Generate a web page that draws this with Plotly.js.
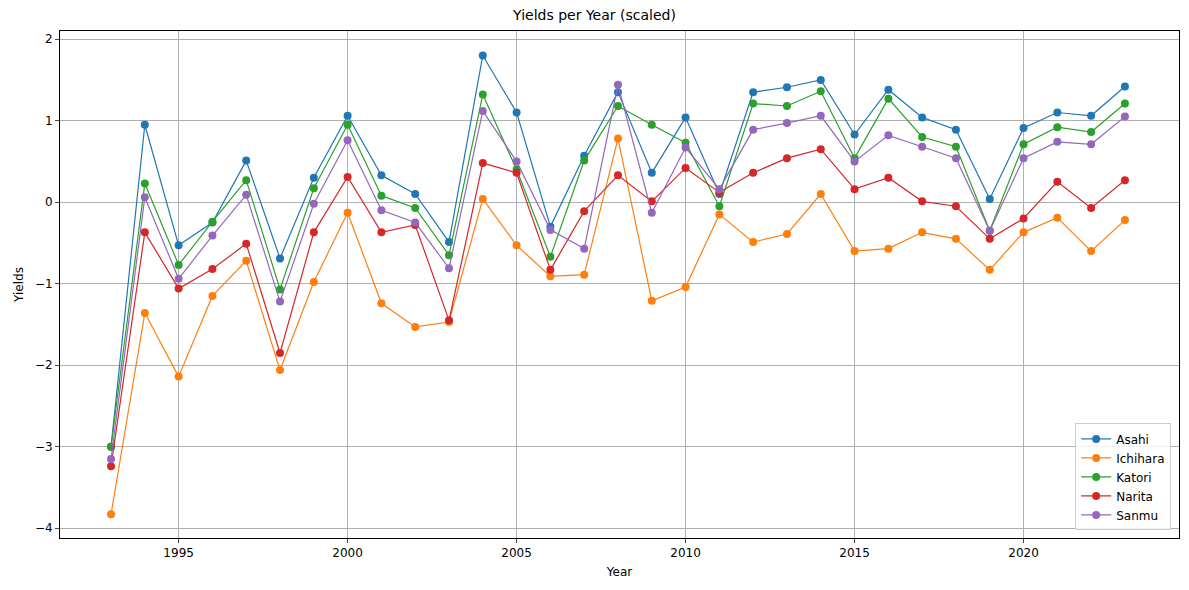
<!DOCTYPE html>
<html>
<head>
<meta charset="utf-8">
<script src="https://cdn.plot.ly/plotly-3.0.1.min.js"></script>
<style>body{margin:0;background:#fff}#chart{width:1189px;height:590px}</style>
</head>
<body>
<div id="chart"></div>
<script>
var years = [];
for (var y = 1993; y <= 2023; y++) years.push(y);

var asahi = [-3.0, 0.95, -0.53, -0.25, 0.51, -0.69, 0.3, 1.06, 0.33, 0.1, -0.49, 1.8, 1.1, -0.3, 0.57, 1.35, 0.36, 1.04, 0.1, 1.35, 1.41, 1.5, 0.83, 1.38, 1.04, 0.89, 0.04, 0.91, 1.1, 1.06, 1.42];
var ichihara = [-3.83, -1.36, -2.14, -1.15, -0.72, -2.06, -0.98, -0.13, -1.24, -1.53, -1.47, 0.04, -0.53, -0.91, -0.89, 0.78, -1.21, -1.04, -0.15, -0.49, -0.39, 0.1, -0.6, -0.57, -0.37, -0.45, -0.83, -0.37, -0.19, -0.6, -0.22];
var katori = [-3.0, 0.23, -0.77, -0.24, 0.27, -1.07, 0.17, 0.95, 0.08, -0.07, -0.65, 1.32, 0.4, -0.67, 0.51, 1.18, 0.95, 0.73, -0.05, 1.21, 1.18, 1.36, 0.54, 1.27, 0.8, 0.68, -0.35, 0.71, 0.92, 0.86, 1.21];
var narita = [-3.24, -0.37, -1.06, -0.82, -0.51, -1.85, -0.37, 0.31, -0.37, -0.28, -1.45, 0.48, 0.36, -0.83, -0.11, 0.33, 0.01, 0.42, 0.12, 0.36, 0.54, 0.65, 0.16, 0.3, 0.01, -0.05, -0.45, -0.2, 0.25, -0.07, 0.27];
var sanmu = [-3.15, 0.06, -0.94, -0.41, 0.09, -1.22, -0.02, 0.76, -0.1, -0.25, -0.81, 1.12, 0.5, -0.34, -0.57, 1.44, -0.13, 0.67, 0.16, 0.89, 0.97, 1.06, 0.5, 0.82, 0.68, 0.54, -0.35, 0.54, 0.74, 0.71, 1.05];

var names = ['Asahi', 'Ichihara', 'Katori', 'Narita', 'Sanmu'];
var series = [asahi, ichihara, katori, narita, sanmu];
var colors = ['#1f77b4', '#ff7f0e', '#2ca02c', '#d62728', '#9467bd'];

var traces = [];
for (var i = 0; i < series.length; i++) {
    traces.push({
        type: 'scatter',
        mode: 'lines+markers',
        name: names[i],
        x: years,
        y: series[i],
        line: { color: colors[i], width: 1.2 },
        marker: { color: colors[i], size: 8 }
    });
}

var axisStyle = {
    showgrid: true,
    gridcolor: '#b0b0b0',
    gridwidth: 1,
    showline: true,
    mirror: true,
    linecolor: '#000',
    linewidth: 1,
    ticks: 'outside',
    ticklen: 4,
    zeroline: false,
    tickfont: { size: 12, color: '#000' }
};

var layout = {
    width: 1189,
    height: 590,
    margin: { l: 60, r: 10, t: 31, b: 52 },
    paper_bgcolor: '#fff',
    plot_bgcolor: '#fff',
    font: { family: 'DejaVu Sans', color: '#000' },
    title: { text: 'Yields per Year (scaled)', font: { size: 14 }, x: 0.5, y: 0.975, yanchor: 'middle' },
    xaxis: Object.assign({}, axisStyle, {
        range: [1991.49, 2024.6],
        tickvals: [1995, 2000, 2005, 2010, 2015, 2020],
        title: { text: 'Year', font: { size: 12 }, standoff: 8 }
    }),
    yaxis: Object.assign({}, axisStyle, {
        range: [-4.12, 2.1],
        tickvals: [-4, -3, -2, -1, 0, 1, 2],
        ticktext: ['\u22124', '\u22123', '\u22122', '\u22121', '0', '1', '2'],
        title: { text: 'Yields', font: { size: 12 }, standoff: 8 }
    }),
    showlegend: true,
    legend: {
        x: 0.993, y: 0.015, xanchor: 'right', yanchor: 'bottom',
        bgcolor: 'rgba(255,255,255,0.8)',
        bordercolor: '#ccc', borderwidth: 1,
        font: { size: 12 }
    }
};

Plotly.newPlot('chart', traces, layout, { displayModeBar: false });
</script>
</body>
</html>
